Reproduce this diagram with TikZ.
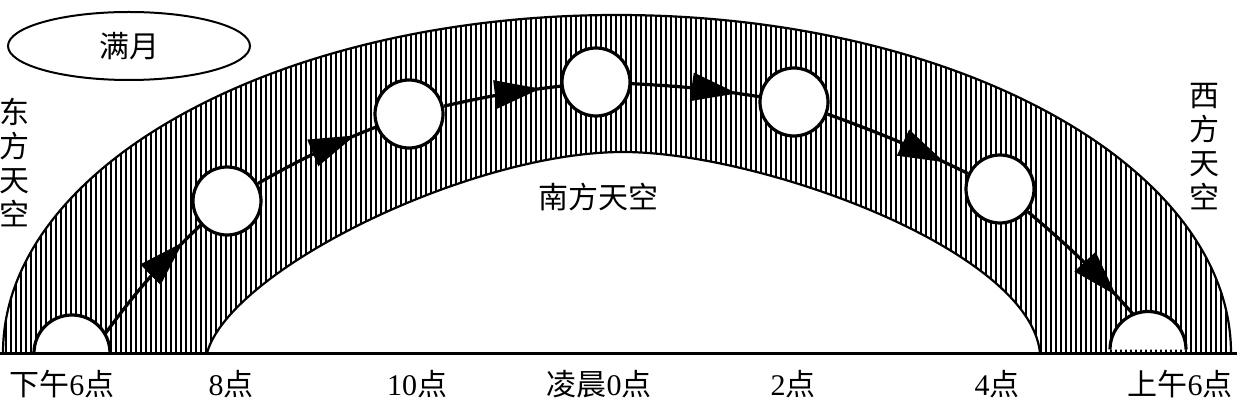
\documentclass[tikz,border=0pt]{standalone}
\usepackage{fontspec}
\setmainfont{Liberation Serif}
\newfontfamily\cjk{Noto Sans CJK SC}
\usetikzlibrary{arrows.meta,decorations.markings,shapes.geometric}
\newcommand{\zh}[1]{{\cjk #1}}

\begin{document}
\begin{tikzpicture}[x=0.5pt, y=0.5pt,
  rim/.style={line width=1.1pt},
  hatch/.style={line width=1.3pt},
  moon/.style={circle, draw, line width=1.6pt, fill=white,
               minimum size=34pt, inner sep=0pt},
  halfmoon/.style={line width=1.6pt, fill=white},
  orbit/.style={line width=1.6pt, postaction={decorate},
                decoration={markings, mark=at position 0.83 with
                  {\arrow{Triangle[length=23pt,width=14pt]}}}},
  lbl/.style={font=\fontsize{15}{17}\selectfont, inner sep=0pt},
  side/.style={font=\cjk\fontsize{15}{17}\selectfont, align=center, inner sep=0pt},
  tag/.style={ellipse, draw, line width=1pt, minimum width=121pt,
              minimum height=34pt, inner sep=0pt, font=\cjk\fontsize{15}{17}\selectfont},
]
\useasboundingbox (0,0) rectangle (1237,402);

% hatched sky band
\begin{scope}
  \clip (3,49) arc[start angle=180, end angle=0, x radius=614, y radius=338]
    -- (1040,49) .. controls (1030,152) and (760,250) .. (623,250)
    .. controls (470,250) and (230,132) .. (207,49) -- cycle;
  \foreach \x in {1,6,...,1236}
    \draw[hatch] (\x,40) -- (\x,400);
\end{scope}
\draw[rim] (3,49) arc[start angle=180, end angle=0, x radius=614, y radius=338];
\draw[rim] (1040,49) .. controls (1030,152) and (760,250) .. (623,250)
  .. controls (470,250) and (230,132) .. (207,49);

% rising and setting moon
\draw[halfmoon] (34,49) arc[start angle=180, end angle=0, radius=38];
\draw[halfmoon] (1110,52.5) arc[start angle=180, end angle=0, radius=38];
\draw[line width=1.5pt] (0,49) -- (1237,49);

% moons along the path
\coordinate (m1) at (105,68);
\node[moon] (m2) at (227,201) {};
\node[moon] (m3) at (409,288) {};
\node[moon] (m4) at (596,320) {};
\node[moon] (m5) at (794,300) {};
\node[moon] (m6) at (1000,213) {};
\coordinate (m7) at (1133,88);

\draw[orbit] (m1) to[bend left=5] (m2);
\draw[orbit] (m2) to[bend left=4] (m3);
\draw[orbit] (m3) to[bend left=3] (m4);
\draw[orbit] (m4) to[bend left=3] (m5);
\draw[orbit] (m5) to[bend left=3] (m6);
\draw[orbit] (m6) to[bend left=4] (m7);

% labels
\node[tag] (full) at (129,356) {满月};
\node[side] (east) at (14,240) {东\\方\\天\\空};
\node[side] (west) at (1204,255) {西\\方\\天\\空};
\node[side] (south) at (598,205) {南方天空};

\node[lbl] (t6pm) at (62,18) {\zh{下午}6\zh{点}};
\node[lbl] (t8) at (231,18) {8\zh{点}};
\node[lbl] (t10) at (417,18) {10\zh{点}};
\node[lbl] (t0) at (599,18) {\zh{凌晨}0\zh{点}};
\node[lbl] (t2) at (793,18) {2\zh{点}};
\node[lbl] (t4) at (997,18) {4\zh{点}};
\node[lbl] (t6am) at (1180,18) {\zh{上午}6\zh{点}};
\end{tikzpicture}
\end{document}
